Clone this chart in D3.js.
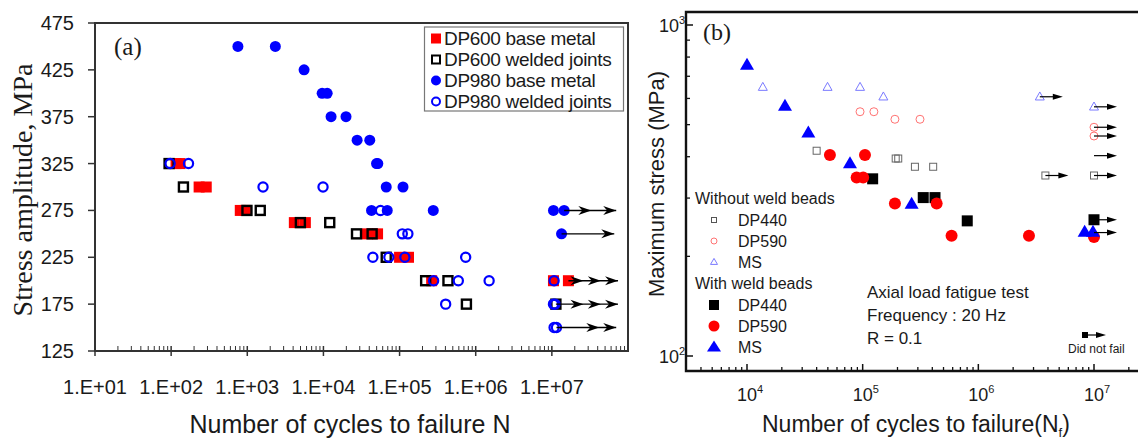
<!DOCTYPE html>
<html>
<head>
<meta charset="utf-8">
<script src="https://cdn.jsdelivr.net/npm/d3@7"></script>
<style>
body { margin: 0; background: #fff; }
svg { display: block; }
text { font-family: "Liberation Sans", Arial, sans-serif; fill: #1a1a1a; }
</style>
</head>
<body>
<svg width="1138" height="441"></svg>
<script>
// ---- panel (a) data : [cycles, stress amplitude MPa]
var dp600Base = [[116,325],[131,325],[233,300],[289,300],[809,275],[942,275],[4150,262],[5790,262],
  [37900,250],[51400,250],[100000,225],[131000,225],[264000,200],[1.05e7,200],[1.65e7,200]]
var dp600Weld = [[94,325],[145,300],[990,275],[1480,275],[4980,262],[12100,262],[27200,250],[43600,250],
  [66800,225],[220000,200],[432000,200],[755000,175],[1.13e7,175]]
var dp980Base = [[753,450],[2335,450],[5570,425],[9620,400],[11200,400],[12600,375],[19800,375],
  [27700,350],[40600,350],[49800,325],[51800,325],[66800,300],[111000,300],[42800,275],[68900,275],
  [277000,275],[1.05e7,275],[1.45e7,275],[1.34e7,250]]
var dp980Weld = [[97,325],[169,325],[1610,300],[9880,300],[56200,275],[108600,250],[128600,250],
  [44600,225],[72300,225],[117400,225],[738000,225],[280000,200],[591000,200],[1.5e6,200],[1.07e7,200],
  [403000,175],[1.05e7,175],[1.1e7,175],[1.07e7,150],[1.15e7,150]]
// run-outs: stress, start, arrow head tips
var runoutA = [[275,1.45e7,[3.3e7,7.0e7]],[250,1.34e7,[6.6e7]],[200,1.65e7,[2.6e7,4.4e7,7.4e7]],
  [175,1.13e7,[2.6e7,4.4e7,7.4e7]],[150,1.15e7,[4.2e7,7.0e7]]]
var ticksA_y = [125,175,225,275,325,375,425,475]
var ticksA_x = [1e1,1e2,1e3,1e4,1e5,1e6,1e7]
var legendA = ['DP600 base metal','DP600 welded joints','DP980 base metal','DP980 welded joints']

// ---- panel (b) data : [cycles, max stress MPa]
var dp440Base = [[40000,417],[193000,395],[203000,395],[283000,373],[407000,373],[3.8e6,351],[1e7,351]]
var dp590Base = [[94900,547],[125000,547],[190000,519],[313000,519],[1e7,491],[1e7,462]]
var msBase = [[13700,649],[49700,649],[94900,649],[151000,607],[3.4e6,607],[1e7,566]]
var dp440Weld = [[122000,343],[334000,301],[422000,301],[802000,256],[1e7,258]]
var dp590Weld = [[52100,405],[104700,405],[88700,346],[101000,346],[190000,289],[436000,289],
  [587000,231],[2.74e6,231],[1e7,229]]
var msWeld = [[10000,757],[21300,569],[33900,473],[77700,382],[265000,288],[8.3e6,237],[9.8e6,237]]
var runoutB = [[3.4e6,607],[1e7,566],[1e7,491],[1e7,462],[1e7,403],[3.8e6,351],[1e7,351],[1e7,258],[1e7,236]]
var notes = ['Axial load fatigue test','Frequency : 20 Hz','R = 0.1']

var svg = d3.select('svg')

// ================= panel (a)
var xA = d3.scaleLog().domain([1e1, 1e8]).range([95, 628])
var yA = d3.scaleLinear().domain([125, 475]).range([351, 23])
var gA = svg.append('g')

gA.append('rect').attr('x', 95).attr('y', 23).attr('width', 533).attr('height', 328)
  .attr('fill', 'none').attr('stroke', '#333').attr('stroke-width', 2)

gA.selectAll('.yt').data(ticksA_y).enter().append('line')
  .attr('x1', 88).attr('x2', 95).attr('y1', yA).attr('y2', yA).attr('stroke', '#333').attr('stroke-width', 1.5)
gA.selectAll('.ytl').data(ticksA_y).enter().append('text')
  .attr('x', 74).attr('y', yA).attr('dy', '0.35em').attr('text-anchor', 'end')
  .style('font-size', '20px').text(function (d) { return d })

var minorA = []
ticksA_x.forEach(function (d) { for (var k = 2; k < 10; k++) minorA.push(d * k) })
gA.selectAll('.xm').data(minorA).enter().append('line')
  .attr('x1', xA).attr('x2', xA).attr('y1', 346).attr('y2', 351).attr('stroke', '#333').attr('stroke-width', 1)
gA.selectAll('.xt').data(ticksA_x).enter().append('line')
  .attr('x1', xA).attr('x2', xA).attr('y1', 346).attr('y2', 356).attr('stroke', '#333').attr('stroke-width', 1.5)
gA.selectAll('.xtl').data(ticksA_x).enter().append('text')
  .attr('x', xA).attr('y', 387).attr('dy', '0.35em').attr('text-anchor', 'middle')
  .style('font-size', '20px').text(function (d) { return '1.E+' + d3.format('02d')(Math.round(Math.log10(d))) })

gA.append('text').attr('x', 350).attr('y', 433).attr('text-anchor', 'middle')
  .style('font-size', '25px').text('Number of cycles to failure N')
gA.append('text').attr('transform', 'translate(32,190) rotate(-90)').attr('text-anchor', 'middle')
  .style('font-family', '"Liberation Serif", "Times New Roman", serif').style('font-size', '28px')
  .text('Stress amplitude, MPa')
gA.append('text').attr('x', 114).attr('y', 55)
  .style('font-family', '"Liberation Serif", "Times New Roman", serif').style('font-size', '25px').text('(a)')

function pxA(d) { return xA(d[0]) }
function pyA(d) { return yA(d[1]) }

gA.selectAll('.s1').data(dp600Base).enter().append('rect')
  .attr('x', function (d) { return pxA(d) - 5.5 }).attr('y', function (d) { return pyA(d) - 5.5 })
  .attr('width', 11).attr('height', 11).attr('fill', '#ff0000')
gA.selectAll('.s2').data(dp600Weld).enter().append('rect')
  .attr('x', function (d) { return pxA(d) - 4.5 }).attr('y', function (d) { return pyA(d) - 4.5 })
  .attr('width', 9).attr('height', 9).attr('fill', 'none').attr('stroke', '#000').attr('stroke-width', 2.4)
gA.selectAll('.s3').data(dp980Base).enter().append('circle')
  .attr('cx', pxA).attr('cy', pyA).attr('r', 5.5).attr('fill', '#0000ff')
gA.selectAll('.s4').data(dp980Weld).enter().append('circle')
  .attr('cx', pxA).attr('cy', pyA).attr('r', 4.6).attr('fill', 'none').attr('stroke', '#0000ff').attr('stroke-width', 2.2)

var ro = gA.selectAll('.ro').data(runoutA).enter().append('g')
ro.append('line')
  .attr('x1', function (d) { return xA(d[1]) }).attr('x2', function (d) { return xA(d[2][d[2].length - 1]) })
  .attr('y1', function (d) { return yA(d[0]) }).attr('y2', function (d) { return yA(d[0]) })
  .attr('stroke', '#000').attr('stroke-width', 1.4)
ro.each(function (d) {
  d3.select(this).selectAll('path').data(d[2]).enter().append('path')
    .attr('d', function (h) {
      var x = xA(h), y = yA(d[0])
      return 'M' + x + ',' + y + 'L' + (x - 13) + ',' + (y - 4.5) + 'L' + (x - 9) + ',' + y + 'L' + (x - 13) + ',' + (y + 4.5) + 'Z'
    }).attr('fill', '#000')
})

// legend (a)
var lg = gA.append('g')
lg.append('rect').attr('x', 424.5).attr('y', 27).attr('width', 199).attr('height', 84)
  .attr('fill', '#fff').attr('stroke', '#777').attr('stroke-width', 1.2)
legendA.forEach(function (t, i) {
  var y = 38.5 + i * 21
  if (i == 0) lg.append('rect').attr('x', 431).attr('y', y - 5).attr('width', 10).attr('height', 10).attr('fill', '#ff0000')
  if (i == 1) lg.append('rect').attr('x', 432).attr('y', y - 4).attr('width', 8).attr('height', 8)
    .attr('fill', 'none').attr('stroke', '#000').attr('stroke-width', 2)
  if (i == 2) lg.append('circle').attr('cx', 436).attr('cy', y).attr('r', 5).attr('fill', '#0000ff')
  if (i == 3) lg.append('circle').attr('cx', 436).attr('cy', y).attr('r', 4).attr('fill', 'none')
    .attr('stroke', '#0000ff').attr('stroke-width', 2)
  lg.append('text').attr('x', 444).attr('y', y).attr('dy', '0.35em').style('font-size', '19px')
    .style('letter-spacing', '-0.3px').text(t)
})

// ================= panel (b)
var xB0 = d3.scaleLog().domain([1e4, 1e7]).range([747, 1094])
var yB0 = d3.scaleLog().domain([1e2, 1e3]).range([356, 25])
var xB = d3.scaleLog().domain([xB0.invert(686), xB0.invert(1138)]).range([686, 1138])
var yB = d3.scaleLog().domain([yB0.invert(371), yB0.invert(12)]).range([371, 12])
var gB = svg.append('g')

gB.append('path').attr('d', 'M1140,12H686V371H1140').attr('fill', 'none').attr('stroke', '#111').attr('stroke-width', 2.4)

var majXB = [1e4, 1e5, 1e6, 1e7], majYB = [1e2, 1e3]
var minXB = [], minYB = []
;[1e3, 1e4, 1e5, 1e6, 1e7].forEach(function (d) { for (var k = 2; k < 10; k++) minXB.push(d * k) })
for (var k = 2; k < 10; k++) minYB.push(100 * k)
minXB = minXB.filter(function (d) { return xB(d) > 688 && xB(d) < 1136 })

gB.selectAll('.bxm').data(minXB).enter().append('line')
  .attr('x1', xB).attr('x2', xB).attr('y1', 367).attr('y2', 371).attr('stroke', '#111').attr('stroke-width', 1.3)
gB.selectAll('.bxt').data(majXB).enter().append('line')
  .attr('x1', xB).attr('x2', xB).attr('y1', 364).attr('y2', 371).attr('stroke', '#111').attr('stroke-width', 1.5)
gB.selectAll('.bym').data(minYB).enter().append('line')
  .attr('x1', 686).attr('x2', 690).attr('y1', yB).attr('y2', yB).attr('stroke', '#111').attr('stroke-width', 1.3)
gB.selectAll('.byt').data(majYB).enter().append('line')
  .attr('x1', 686).attr('x2', 693).attr('y1', yB).attr('y2', yB).attr('stroke', '#111').attr('stroke-width', 1.5)

function pow10(sel) {
  sel.append('tspan').text('10')
  sel.append('tspan').attr('dy', '-8').style('font-size', '11px')
    .text(function (d) { return Math.round(Math.log10(d)) })
}
gB.selectAll('.bxl').data(majXB).enter().append('text')
  .attr('x', function (d) { return xB(d) - 10 }).attr('y', 401).style('font-size', '18px').call(pow10)
gB.selectAll('.byl').data(majYB).enter().append('text')
  .attr('x', 659).attr('y', function (d) { return yB(d) + 7 }).style('font-size', '18px').call(pow10)

var xt = gB.append('text').attr('x', 762).attr('y', 432).style('font-size', '23px')
xt.append('tspan').text('Number of cycles to failure(N')
xt.append('tspan').attr('dy', 5).style('font-size', '13px').text('f')
xt.append('tspan').attr('dy', -5).text(')')
gB.append('text').attr('transform', 'translate(664,184) rotate(-90)').attr('text-anchor', 'middle')
  .style('font-size', '22px').text('Maximum stress (MPa)')
gB.append('text').attr('x', 703).attr('y', 40)
  .style('font-family', '"Liberation Serif", "Times New Roman", serif').style('font-size', '24px').text('(b)')

function tri(x, y, w, h) {
  return 'M' + x + ',' + (y - h * 0.6) + 'L' + (x + w / 2) + ',' + (y + h * 0.4) + 'L' + (x - w / 2) + ',' + (y + h * 0.4) + 'Z'
}
function pxB(d) { return xB(d[0]) }
function pyB(d) { return yB(d[1]) }

gB.selectAll('.b1').data(dp440Base).enter().append('rect')
  .attr('x', function (d) { return pxB(d) - 3.5 }).attr('y', function (d) { return pyB(d) - 3.5 })
  .attr('width', 7).attr('height', 7).attr('fill', 'none').attr('stroke', '#666').attr('stroke-width', 1)
gB.selectAll('.b2').data(dp590Base).enter().append('circle')
  .attr('cx', pxB).attr('cy', pyB).attr('r', 4).attr('fill', 'none').attr('stroke', '#ff7373').attr('stroke-width', 1)
gB.selectAll('.b3').data(msBase).enter().append('path')
  .attr('d', function (d) { return tri(pxB(d), pyB(d), 9, 8) }).attr('fill', 'none').attr('stroke', '#7a7aff').attr('stroke-width', 1)
gB.selectAll('.b4').data(dp440Weld).enter().append('rect')
  .attr('x', function (d) { return pxB(d) - 5.5 }).attr('y', function (d) { return pyB(d) - 5.5 })
  .attr('width', 11).attr('height', 11).attr('fill', '#000')
gB.selectAll('.b5').data(dp590Weld).enter().append('circle')
  .attr('cx', pxB).attr('cy', pyB).attr('r', 6).attr('fill', '#ff0000')
gB.selectAll('.b6').data(msWeld).enter().append('path')
  .attr('d', function (d) { return tri(pxB(d), pyB(d), 14, 12) }).attr('fill', '#0000ff')

function arrowB(g, x, y, len) {
  g.append('line').attr('x1', x).attr('x2', x + len - 8).attr('y1', y).attr('y2', y).attr('stroke', '#000').attr('stroke-width', 1.2)
  g.append('path').attr('d', 'M' + (x + len) + ',' + y + 'L' + (x + len - 10) + ',' + (y - 3) + 'L' + (x + len - 10) + ',' + (y + 3) + 'Z').attr('fill', '#000')
}
runoutB.forEach(function (d) { arrowB(gB, xB(d[0]), yB(d[1]), 23) })

// legend (b)
var lb = gB.append('g')
lb.append('text').attr('x', 695).attr('y', 198).attr('dy', '0.35em').style('font-size', '16px').text('Without weld beads')
lb.append('text').attr('x', 695).attr('y', 283).attr('dy', '0.35em').style('font-size', '16px').text('With weld beads')
var rowsB = [
  ['DP440', 220, function (g, y) { g.append('rect').attr('x', 711.5).attr('y', y - 2.5).attr('width', 5).attr('height', 5).attr('fill', 'none').attr('stroke', '#555') }],
  ['DP590', 241, function (g, y) { g.append('circle').attr('cx', 714).attr('cy', y).attr('r', 3).attr('fill', 'none').attr('stroke', '#ff7373') }],
  ['MS', 262, function (g, y) { g.append('path').attr('d', tri(714, y, 7, 6)).attr('fill', 'none').attr('stroke', '#7a7aff') }],
  ['DP440', 305, function (g, y) { g.append('rect').attr('x', 709).attr('y', y - 5).attr('width', 10).attr('height', 10).attr('fill', '#000') }],
  ['DP590', 326, function (g, y) { g.append('circle').attr('cx', 714).attr('cy', y).attr('r', 5.5).attr('fill', '#ff0000') }],
  ['MS', 347, function (g, y) { g.append('path').attr('d', tri(714, y, 14, 11)).attr('fill', '#0000ff') }]
]
rowsB.forEach(function (r) {
  r[2](lb, r[1])
  lb.append('text').attr('x', 738).attr('y', r[1]).attr('dy', '0.35em').style('font-size', '16px').text(r[0])
})

notes.forEach(function (t, i) {
  gB.append('text').attr('x', 867).attr('y', 292 + i * 23).attr('dy', '0.35em').style('font-size', '17px').text(t)
})
gB.append('rect').attr('x', 1082).attr('y', 332).attr('width', 6).attr('height', 6).attr('fill', '#000')
arrowB(gB, 1085, 335, 21)
gB.append('text').attr('x', 1068).attr('y', 349).attr('dy', '0.35em').style('font-size', '12px').text('Did not fail')
</script>
</body>
</html>
